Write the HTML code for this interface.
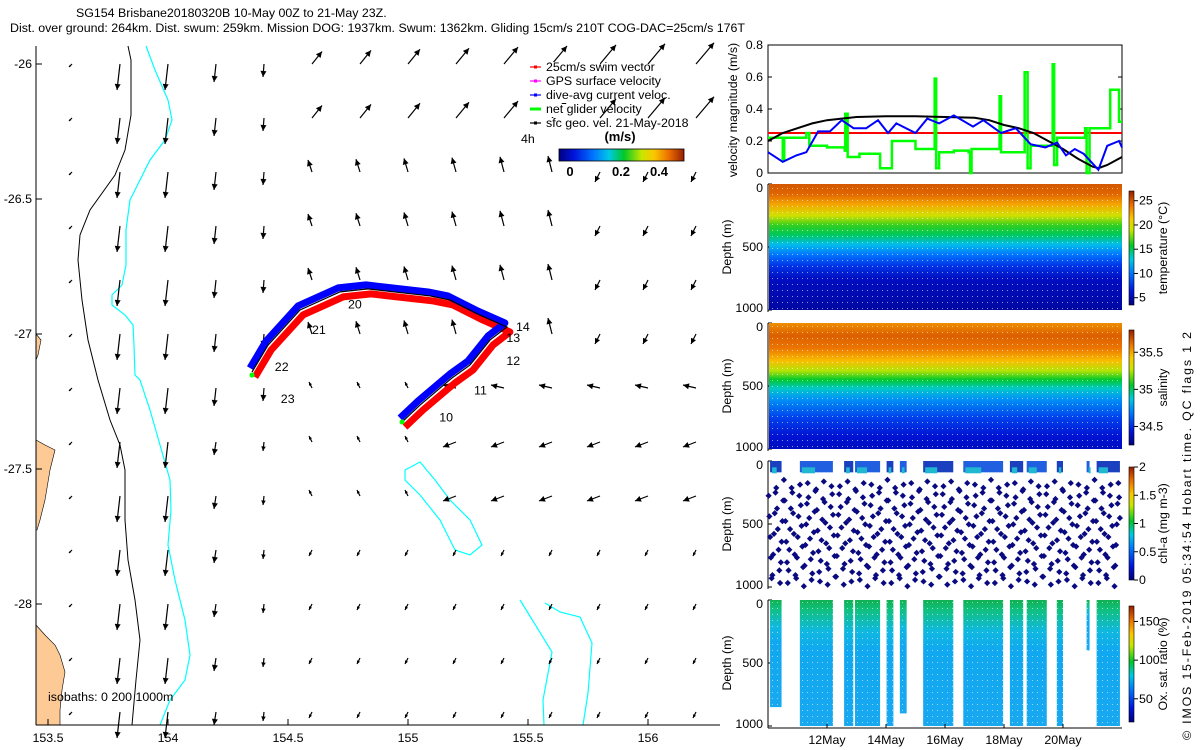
<!DOCTYPE html>
<html><head><meta charset="utf-8"><style>
html,body{margin:0;padding:0;background:#fff;}
svg{display:block;font-family:"Liberation Sans",sans-serif;}
</style></head><body>
<svg id="fig" width="1200" height="750" viewBox="0 0 1200 750" xmlns="http://www.w3.org/2000/svg">
<defs>
<pattern id="dots" width="5" height="6" patternUnits="userSpaceOnUse"><rect x="2" y="2" width="1" height="1" fill="#fff" opacity="0.8"/></pattern>
</defs>
<g font-size="12.4">
<text x="76" y="17">SG154 Brisbane20180320B 10-May 00Z to 21-May 23Z.</text>
<text x="10" y="32" textLength="735">Dist. over ground: 264km. Dist. swum: 259km. Mission DOG: 1937km. Swum: 1362km. Gliding 15cm/s 210T COG-DAC=25cm/s 176T</text>
</g>
<g id="map"></g>
<g id="right"></g>
<text transform="translate(1191,740) rotate(-90)" font-size="12.4" textLength="408">© IMOS 15-Feb-2019 05:34:54 Hobart time. QC flags 1  2</text>
</svg>
<script>
// ---------- DATA ----------
const lonTicks=[153.5,154,154.5,155,155.5,156];
const latTicks=[-26,-26.5,-27,-27.5,-28];
const trackLon=[154.35,154.417,154.55,154.717,154.833,155.092,155.175,155.3,155.412,155.342,155.258,155.183,155.05,154.975];
const trackLat=[-27.141,-27.041,-26.911,-26.844,-26.833,-26.859,-26.874,-26.93,-26.974,-27.022,-27.115,-27.163,-27.263,-27.326];
const dayLabels=["22","23","21","20","14","13","12","11","10"];
const dayLon=[154.445,154.47,154.6,154.75,155.45,155.41,155.41,155.275,155.13];
const dayLat=[-27.123,-27.24,-26.985,-26.89,-26.974,-27.015,-27.1,-27.21,-27.31];
const isoBlackX=[128,131,131,125,115,90,80,78,82,88,98,110,120,125,125,128,135,140,136,132];
const isoBlackY=[46,60,115,150,175,210,235,260,300,340,380,420,445,470,520,560,600,640,680,725];
const isoCyanX=[146,155,168,172,165,150,140,130,126,126,122,112,112,125,133,134,135,140,150,160,170,171,168,175,185,190,185,170,160];
const isoCyanY=[46,70,100,120,140,160,180,200,230,265,285,295,305,315,325,345,375,380,410,445,480,510,545,580,620,655,680,700,725];
const velT=[0,0.5,0.96,1.3,1.7,2.1,2.5,2.9,3.33,3.73,4.07,4.35,5.0,5.4,5.8,6.3,6.95,7.3,7.9,8.4,8.9,9.4,9.8,10.1,10.4,10.7,11.2,11.5,11.9,12];
const blueV=[0.13,0.07,0.11,0.13,0.26,0.26,0.33,0.28,0.28,0.33,0.25,0.31,0.25,0.34,0.31,0.36,0.29,0.33,0.25,0.28,0.18,0.16,0.19,0.11,0.15,0.12,0.02,0.17,0.2,0.16];
const geoT=[0,0.5,1,1.5,2,2.5,3,4,5,6,7,7.5,8,8.5,9,9.5,10,10.5,11,11.2,11.5,12];
const geoV=[0.2,0.25,0.28,0.31,0.33,0.34,0.35,0.355,0.355,0.35,0.345,0.33,0.3,0.28,0.25,0.2,0.15,0.09,0.04,0.03,0.05,0.1];
const greenT=[0,0.45,0.5,0.55,1.3,1.4,2.0,2.6,2.62,2.7,3.1,3.5,3.8,4.2,4.6,5.0,5.6,5.65,5.7,5.8,6.3,6.8,6.85,6.9,7.8,7.85,7.9,8.6,8.7,8.75,8.8,8.9,9.6,9.65,9.7,9.8,10.5,10.75,10.8,10.9,11.5,11.6,11.9,12];
const greenV=[0.22,0.22,0.08,0.22,0.25,0.17,0.16,0.14,0.37,0.1,0.12,0.12,0.03,0.2,0.2,0.15,0.15,0.59,0.03,0.13,0.14,0.13,0.0,0.15,0.15,0.48,0.13,0.13,0.63,0.63,0.03,0.17,0.17,0.68,0.05,0.22,0.22,0.28,0.0,0.28,0.28,0.52,0.32,0.32];
const swimV=0.25;
const velTicks=[0,0.2,0.4,0.6,0.8];
const dateTicks=[2,4,6,8,10];
const dateLabels=["12May","14May","16May","18May","20May"];
const tempDepth=[0,80,160,250,330,400,480,560,650,750,1000];
const tempVal=[25,24.5,22.5,19.5,16.5,15,12.5,10,7.5,5.5,4.5];
const salDepth=[0,100,200,300,380,450,520,600,750,900,1000];
const salVal=[35.55,35.65,35.6,35.45,35.25,35.05,34.9,34.75,34.55,34.42,34.38];
const oxStart=[0.07,1.08,2.58,2.95,4.02,4.47,5.26,6.62,8.2,8.77,9.79,10.8,11.14];
const oxEnd=[0.46,2.2,2.89,3.8,4.25,4.7,6.28,7.97,8.65,9.45,10.0,10.9,11.93];
const oxMaxDepth=[850,1000,1000,1000,1000,900,1000,1000,1000,1000,1000,400,1000];

// ---------- helpers ----------
const NS="http://www.w3.org/2000/svg";
function mk(tag,attrs,parent){const e=document.createElementNS(NS,tag);for(const k in attrs)e.setAttribute(k,attrs[k]);parent.appendChild(e);return e;}
const cmapStops=[[0,[0,0,128]],[0.12,[0,20,220]],[0.28,[0,120,255]],[0.4,[0,200,230]],[0.52,[0,200,40]],[0.66,[200,230,0]],[0.76,[250,200,0]],[0.88,[235,110,0]],[1,[150,30,0]]];
function jet(v){v=Math.max(0,Math.min(1,v));for(let i=1;i<cmapStops.length;i++){if(v<=cmapStops[i][0]){const a=cmapStops[i-1],b=cmapStops[i];const f=(v-a[0])/(b[0]-a[0]);
 const c=a[1].map((x,k)=>Math.round(x+(b[1][k]-x)*f));return `rgb(${c[0]},${c[1]},${c[2]})`;}}return "rgb(150,30,0)";}
const defs=document.querySelector('defs');
function mkCmapGrad(id,vert){const lg=mk('linearGradient',vert?{id:id,x1:0,x2:0,y1:1,y2:0}:{id:id,x1:0,x2:1,y1:0,y2:0},defs);
 cmapStops.forEach(s=>mk('stop',{offset:s[0],"stop-color":jet(s[0])},lg));}
mkCmapGrad('jetH',false);mkCmapGrad('jetV',true);
const map=document.getElementById('map'),right=document.getElementById('right');
const X=lon=>48+(lon-153.5)*240, Y=lat=>64+(-26-lat)*270;

// ---------- MAP ----------
let e;
e=mk('path',{d:"M36,440 L45,445 L55,450 L50,470 L45,500 L40,520 L37,530 L36,530 Z",fill:"#fdca96",stroke:"#000","stroke-width":0.6},map);

e=mk('path',{d:"M36,334 L41,340 L38,355 L36,360 Z",fill:"#fdca96",stroke:"#000","stroke-width":0.6},map);

e=mk('path',{d:"M36,625 L45,635 L55,645 L60,655 L65,672 L62,690 L60,710 L60,725 L36,725 Z",fill:"#fdca96",stroke:"#000","stroke-width":0.6},map);

e=mk('polyline',{points:isoBlackX.map((x,i)=>x+","+isoBlackY[i]).join(" "),fill:"none",stroke:"#000","stroke-width":1},map);

e=mk('polyline',{points:isoCyanX.map((x,i)=>x+","+isoCyanY[i]).join(" "),fill:"none",stroke:"#00ffff","stroke-width":1.2},map);

e=mk('path',{d:"M405,470 L420,462 L435,480 L450,500 L470,520 L482,545 L470,555 L455,550 L440,520 L420,495 L405,480 Z",fill:"none",stroke:"#00ffff","stroke-width":1.2},map);

e=mk('path',{d:"M544,725 L543,700 L552,652 L520,600 M545,603 L560,612 L580,617 L592,643 L588,693 L583,725",fill:"none",stroke:"#00ffff","stroke-width":1.2},map);

// arrow field
for(let r=0;r<13;r++){for(let c=0;c<14;c++){
  const lon=153.6+0.2*c, lat=-26-0.2*r; let dx=0,dy=0;
  if(c===0){dx=-3;dy=3;}
  else if(c<=2){dx=-3;dy=26;}
  else if(c===3){dx=-2;dy=r<7?18:13;}
  else if(c===4){dx=-1;dy=r<7?13:9;}
  else if(r<=1){dx=5+c*1.0;dy=-(7+c*1.1);}
  else if(r<=5){ if(c>=11){dx=-5;dy=10;} else {dx=-4;dy=-(8+c*0.8);} }
  else if(r<=8){ if(c>=8){dx=-13;dy=r===6?-3:5;} else {dx=-3;dy=-6;} }
  else {dx=-3;dy=6;}
  const x0=X(lon),y0=Y(lat),x1=x0+dx,y1=y0+dy;
  const L=Math.hypot(dx,dy)||1,ux=dx/L,uy=dy/L,h=Math.min(6,L*0.5);
  const g=mk('g',{},map);
  
  
  mk('line',{x1:x0,y1:y0,x2:x1,y2:y1,stroke:"#000","stroke-width":1.2},g);
  mk('polygon',{points:`${x1},${y1} ${x1-ux*h-uy*h*0.5},${y1-uy*h+ux*h*0.5} ${x1-ux*h+uy*h*0.5},${y1-uy*h-ux*h*0.5}`,fill:"#000"},g);
}}
// track
const tp=(ox,oy)=>trackLon.map((l,i)=>(X(l)+ox)+","+(Y(trackLat[i])+oy)).join(" ");
e=mk('polyline',{points:tp(3,5),fill:"none",stroke:"#ff0000","stroke-width":7,"stroke-linejoin":"round"},map);

e=mk('polyline',{points:tp(-2,-4),fill:"none",stroke:"#0000ff","stroke-width":7,"stroke-linejoin":"round"},map);

e=mk('polyline',{points:tp(0,0),fill:"none",stroke:"#000","stroke-width":1.2},map);

e=mk('circle',{cx:X(trackLon[0]),cy:Y(trackLat[0])+3,r:2.5,fill:"#00ff00"},map);

e=mk('circle',{cx:X(trackLon[13]),cy:Y(trackLat[13]),r:2.5,fill:"#00ff00"},map);

dayLabels.forEach((s,i)=>{const t=mk('text',{x:X(dayLon[i]),y:Y(dayLat[i])+4,"font-size":12.4},map);t.textContent=s;
});
e=mk('line',{x1:36,y1:46,x2:36,y2:725,stroke:"#000"},map);
e=mk('line',{x1:36,y1:725,x2:720,y2:725,stroke:"#000"},map);
lonTicks.forEach(v=>{const x=X(v);mk('line',{x1:x,y1:725,x2:x,y2:719,stroke:"#000"},map);
 const t=mk('text',{x:x,y:742,"font-size":12.4,"text-anchor":"middle"},map);t.textContent=String(v);
 });
latTicks.forEach(v=>{const y=Y(v);mk('line',{x1:36,y1:y,x2:42,y2:y,stroke:"#000"},map);
 const t=mk('text',{x:32,y:y+4,"font-size":12.4,"text-anchor":"end"},map);t.textContent=String(v);
 });
e=mk('text',{x:48,y:701,"font-size":12.4},map);e.textContent="isobaths: 0    200   1000m";

const legNames=["25cm/s swim vector","GPS surface velocity","dive-avg current veloc.","net glider velocity","sfc geo. vel. 21-May-2018"];
const legCols=["#ff0000","#ff00ff","#0000ff","#00ff00","#000000"];
legNames.forEach((s,i)=>{const y=67+i*14;const g=mk('g',{},map);
 
 mk('rect',{x:530,y:y-5,width:70,height:13,fill:"#fff"},g);
 mk('line',{x1:530,y1:y,x2:541,y2:y,stroke:legCols[i],"stroke-width":i===3?3:1.2},g);
 mk('rect',{x:534,y:y-1.5,width:3,height:3,fill:legCols[i]},g);
 const t=mk('text',{x:546,y:y+4,"font-size":12.4},g);t.textContent=s;});
e=mk('text',{x:521,y:143,"font-size":12.4},map);e.textContent="4h";
e=mk('text',{x:620,y:141,"font-size":13,"font-weight":"bold","text-anchor":"middle"},map);e.textContent="(m/s)";
e=mk('rect',{x:559,y:149,width:125,height:12,fill:"url(#jetH)",stroke:"#000","stroke-width":0.8},map);
[["0",570],["0.2",621],["0.4",659]].forEach(a=>{const t=mk('text',{x:a[1],y:176,"font-size":13,"font-weight":"bold","text-anchor":"middle"},map);t.textContent=a[0];
});

// ---------- RIGHT PANELS ----------
const L0=768,R0=1122;
const tX=t=>L0+t*29.5, vY=v=>173-v*160;
e=mk('rect',{x:L0,y:45,width:R0-L0,height:128,fill:"none",stroke:"#000"},right);
velTicks.forEach(v=>{const y=vY(v);mk('line',{x1:L0,y1:y,x2:L0+4,y2:y,stroke:"#000"},right);mk('line',{x1:R0,y1:y,x2:R0-4,y2:y,stroke:"#000"},right);
 const t=mk('text',{x:763,y:y+4,"font-size":12.4,"text-anchor":"end"},right);t.textContent=String(v);
 });
e=mk('text',{transform:"translate(737,110) rotate(-90)","font-size":12.4,"text-anchor":"middle"},right);e.textContent="velocity magnitude (m/s)";

e=mk('line',{x1:L0,y1:vY(swimV),x2:R0,y2:vY(swimV),stroke:"#ff0000","stroke-width":2},right);
let gp="";greenT.forEach((t,i)=>{gp+=(i?" L":"M")+tX(t)+","+vY(greenV[i]);if(i<greenT.length-1)gp+=" L"+tX(greenT[i+1])+","+vY(greenV[i]);});
e=mk('path',{d:gp,fill:"none",stroke:"#00ff00","stroke-width":2.5},right);
e=mk('polyline',{points:geoT.map((t,i)=>tX(t)+","+vY(geoV[i])).join(" "),fill:"none",stroke:"#000","stroke-width":2},right);
e=mk('polyline',{points:velT.map((t,i)=>tX(t)+","+vY(blueV[i])).join(" "),fill:"none",stroke:"#0000ff","stroke-width":2},right);

function depthPanel(top,name){
  const dY=d=>top+d*0.126;
  e=mk('line',{x1:L0,y1:top,x2:L0,y2:top+128,stroke:"#000"},right);
  [0,500,1000].forEach(d=>{mk('line',{x1:L0,y1:dY(d),x2:L0+4,y2:dY(d),stroke:"#000"},right);
   const t=mk('text',{x:763,y:dY(d)+(d===0?8:d===1000?2:4),"font-size":12.4,"text-anchor":"end"},right);t.textContent=String(d);
   });
  const t=mk('text',{transform:`translate(731,${top+63}) rotate(-90)`,"font-size":12.4,"text-anchor":"middle"},right);t.textContent="Depth (m)";
  
  return dY;
}
function colorbar(y0,y1,vmin,vmax,ticks,label,name){
  e=mk('rect',{x:1129,y:y0,width:5,height:y1-y0,fill:"url(#jetV)",stroke:"#000","stroke-width":0.6},right);
  ticks.forEach(v=>{const y=y1-(v-vmin)/(vmax-vmin)*(y1-y0);mk('line',{x1:1134,y1:y,x2:1138,y2:y,stroke:"#000"},right);
   const t=mk('text',{x:1139,y:y+4,"font-size":12.4},right);t.textContent=String(v);
   });
  const t=mk('text',{transform:`translate(1167,${(y0+y1)/2}) rotate(-90)`,"font-size":12.4,"text-anchor":"middle"},right);t.textContent=label;
  
}
function profileGradient(id,depths,vals,vmin,vmax){
  const lg=mk('linearGradient',{id:id,x1:0,x2:0,y1:0,y2:1},defs);
  depths.forEach((d,i)=>mk('stop',{offset:d/1000,"stop-color":jet((vals[i]-vmin)/(vmax-vmin))},lg));
}
let dY=depthPanel(184,'temperature');
profileGradient('tg',tempDepth,tempVal,3.5,27);
e=mk('rect',{x:L0+1,y:dY(0),width:R0-L0-1,height:dY(1000)-dY(0),fill:"url(#tg)"},right);
mk('rect',{x:L0+1,y:dY(0),width:R0-L0-1,height:dY(1000)-dY(0),fill:"url(#dots)",opacity:0.7},right);
colorbar(191,305,3.5,27,[5,10,15,20,25],"temperature (°C)","temperature");
dY=depthPanel(323,'salinity');
profileGradient('sg',salDepth,salVal,34.25,35.8);
e=mk('rect',{x:L0+1,y:dY(0),width:R0-L0-1,height:dY(1000)-dY(0),fill:"url(#sg)"},right);
mk('rect',{x:L0+1,y:dY(0),width:R0-L0-1,height:dY(1000)-dY(0),fill:"url(#dots)",opacity:0.7},right);
colorbar(330,445,34.25,35.8,[34.5,35,35.5],"salinity","salinity");
dY=depthPanel(461,'chlorophyll');
oxStart.forEach((s,i)=>{e=mk('rect',{x:tX(s),y:dY(0),width:tX(oxEnd[i])-tX(s),height:dY(90)-dY(0),fill:i%2?"#2060e0":"#1a40c0"},right);
 
 e=mk('rect',{x:tX(s)+2,y:dY(50),width:Math.max(2,(tX(oxEnd[i])-tX(s))*0.4),height:6,fill:"#20b8d0"},right);
 });
const chlG=mk('g',{fill:"#0a0a80"},right);
for(let t=0.02;t<11.95;t+=0.026){const ph=(t/0.135)%2;const d=150+850*(ph<1?ph:2-ph);
 const x=tX(t),y=dY(d);mk('rect',{x:x-2.2,y:y-2.2,width:4.4,height:4.4,transform:`rotate(45 ${x} ${y})`},chlG);}
colorbar(467,580,0,2,[0,0.5,1,1.5,2],"chl-a (mg m-3)","chlorophyll");
dY=depthPanel(600,'oxygen');
const og=mk('linearGradient',{id:'og',x1:0,x2:0,y1:0,y2:1},defs);
[[0,"#10b050"],[0.08,"#10c080"],[0.25,"#10b8e0"],[0.4,"#10a8f0"],[1,"#18a8f0"]].forEach(s=>mk('stop',{offset:s[0],"stop-color":s[1]},og));
oxStart.forEach((s,i)=>{e=mk('rect',{x:tX(s),y:dY(0),width:tX(oxEnd[i])-tX(s),height:dY(oxMaxDepth[i])-dY(0),fill:"url(#og)"},right);
 
 mk('rect',{x:tX(s),y:dY(0),width:tX(oxEnd[i])-tX(s),height:dY(oxMaxDepth[i])-dY(0),fill:"url(#dots)",opacity:0.7},right);});
e=mk('line',{x1:L0,y1:728,x2:R0,y2:728,stroke:"#000"},right);
dateTicks.forEach((d,i)=>{const x=tX(d);mk('line',{x1:x,y1:728,x2:x,y2:724,stroke:"#000"},right);
 const t=mk('text',{x:x,y:744,"font-size":12.4,"text-anchor":"middle"},right);t.textContent=dateLabels[i];
 });
colorbar(606,722,20,170,[50,100,150],"Ox. sat. ratio (%)","oxygen");
</script>
</body></html>
